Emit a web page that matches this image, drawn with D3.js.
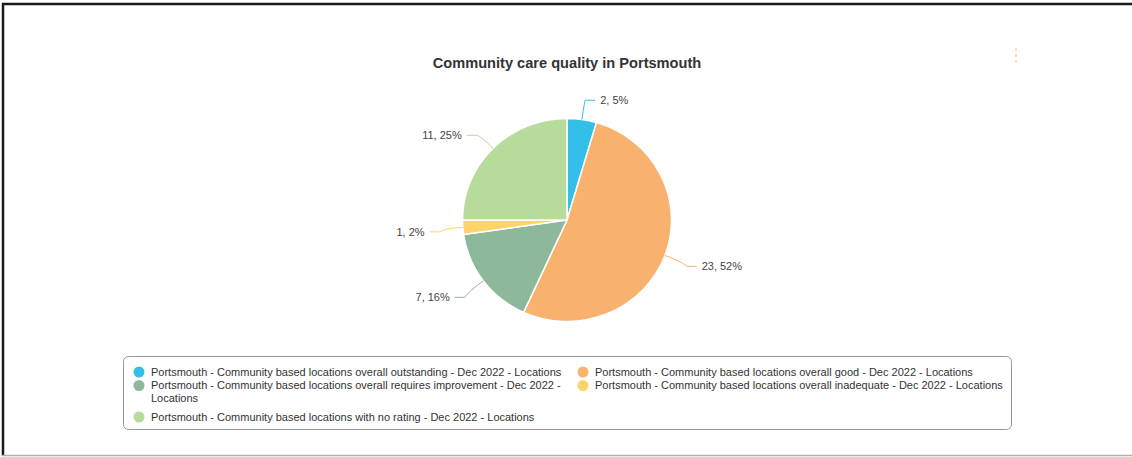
<!DOCTYPE html>
<html>
<head>
<meta charset="utf-8">
<script src="https://cdn.jsdelivr.net/npm/d3@7"></script>
<style>
  body { margin: 0; background: #fff; }
  svg { display: block; font-family: "Liberation Sans", Arial, sans-serif; }
</style>
</head>
<body>
<div id="chart"></div>
<script>
// chart data
const title = 'Community care quality in Portsmouth';
const categories = [
    'Portsmouth - Community based locations overall outstanding - Dec 2022 - Locations',
    'Portsmouth - Community based locations overall good - Dec 2022 - Locations',
    'Portsmouth - Community based locations overall requires improvement - Dec 2022 - Locations',
    'Portsmouth - Community based locations overall inadequate - Dec 2022 - Locations',
    'Portsmouth - Community based locations with no rating - Dec 2022 - Locations'
];
const values = [2, 23, 7, 1, 11];
const colors = ['#33bfe8', '#f9b26d', '#8eb89b', '#fdd46a', '#b6db9b'];

const width = 1132, height = 457;
const cx = 567, cy = 220, radius = 101.5;
// the source picture is a little wider than tall
const stretch = 1.03;

const svg = d3.select('#chart').append('svg')
    .attr('width', width)
    .attr('height', height);

// outer frame
svg.append('line').attr('x1', 2).attr('x2', width).attr('y1', 4).attr('y2', 4)
    .style('stroke', '#1a1a1a').style('stroke-width', 2.5);
svg.append('line').attr('x1', 3).attr('x2', 3).attr('y1', 3).attr('y2', 456)
    .style('stroke', '#1a1a1a').style('stroke-width', 2.5);
svg.append('line').attr('x1', 2).attr('x2', width).attr('y1', 455.5).attr('y2', 455.5)
    .style('stroke', '#b0b0b0').style('stroke-width', 1.5);

// little dashed mark top right
svg.append('line').attr('x1', 1016).attr('x2', 1016).attr('y1', 48).attr('y2', 65)
    .style('stroke', '#f3c98a').style('stroke-width', 1.2).style('stroke-dasharray', '3 3');

// title
svg.append('text')
    .attr('x', cx).attr('y', 68)
    .attr('text-anchor', 'middle')
    .style('font-size', '14.6px').style('font-weight', 'bold').style('fill', '#333')
    .text(title);

const total = d3.sum(values);
const pie = d3.pie().sort(null).value(d => d)(values);
const arc = d3.arc().innerRadius(0).outerRadius(radius);

const g = svg.append('g').attr('transform', `translate(${cx}, ${cy})`);

g.append('g')
    .attr('transform', `scale(${stretch}, 1)`)
    .selectAll('path.slice')
    .data(pie)
    .join('path')
    .attr('class', 'slice')
    .attr('d', arc)
    .style('fill', (d, i) => colors[i])
    .style('stroke', '#fff')
    .style('stroke-width', 1.5);

// data labels with connectors
const labelDist = 124;
pie.forEach((d, i) => {
    const a = (d.startAngle + d.endAngle) / 2;
    const sx = Math.sin(a), sy = -Math.cos(a);
    const right = sx >= 0;
    const ex = sx * radius * stretch, ey = sy * radius;
    const lx = sx * labelDist * stretch, ly = sy * labelDist + 3;
    const mx = sx * (radius + 18) * stretch, my = sy * (radius + 18);
    const tx = lx + (right ? 15 : -15);
    g.append('path')
        .attr('d', `M${ex},${ey} Q${mx},${my} ${lx},${ly} L${tx - (right ? 5 : -5)},${ly}`)
        .style('fill', 'none')
        .style('stroke', colors[i])
        .style('stroke-width', 1);
    g.append('text')
        .attr('x', tx)
        .attr('y', ly)
        .attr('dy', '0.35em')
        .attr('text-anchor', right ? 'start' : 'end')
        .style('font-size', '11px')
        .style('fill', '#444')
        .text(`${d.data}, ${Math.round(d.data / total * 100)}%`);
});

// legend
const legend = svg.append('g');
legend.append('rect')
    .attr('x', 123.5).attr('y', 356.5)
    .attr('width', 888).attr('height', 73)
    .attr('rx', 5)
    .style('fill', '#fff')
    .style('stroke', '#999')
    .style('stroke-width', 1);

const colX = [139, 583];
const lineH = 13;
const maxTextW = 420;
let rowY = 372;
for (let r = 0; r < Math.ceil(categories.length / 2); r++) {
    let rowLines = 1;
    for (let c = 0; c < 2; c++) {
        const i = r * 2 + c;
        if (i >= categories.length) break;
        legend.append('circle')
            .attr('cx', colX[c]).attr('cy', rowY)
            .attr('r', 5.5)
            .style('fill', colors[i]);
        const t = legend.append('text')
            .attr('x', colX[c] + 12).attr('y', rowY)
            .attr('dy', '0.35em')
            .style('font-size', '11px')
            .style('fill', '#333');
        // simple word wrap
        const words = categories[i].split(' ');
        let line = [];
        let n = 0;
        let ts = t.append('tspan').attr('x', colX[c] + 12);
        words.forEach(w => {
            line.push(w);
            ts.text(line.join(' '));
            if (ts.node().getComputedTextLength() > maxTextW && line.length > 1) {
                line.pop();
                ts.text(line.join(' '));
                line = [w];
                n++;
                ts = t.append('tspan').attr('x', colX[c] + 12).attr('dy', lineH).text(w);
            }
        });
        rowLines = Math.max(rowLines, n + 1);
    }
    rowY += rowLines * lineH + (rowLines > 1 ? 5 : 0) + 0.5;
}
</script>
</body>
</html>
